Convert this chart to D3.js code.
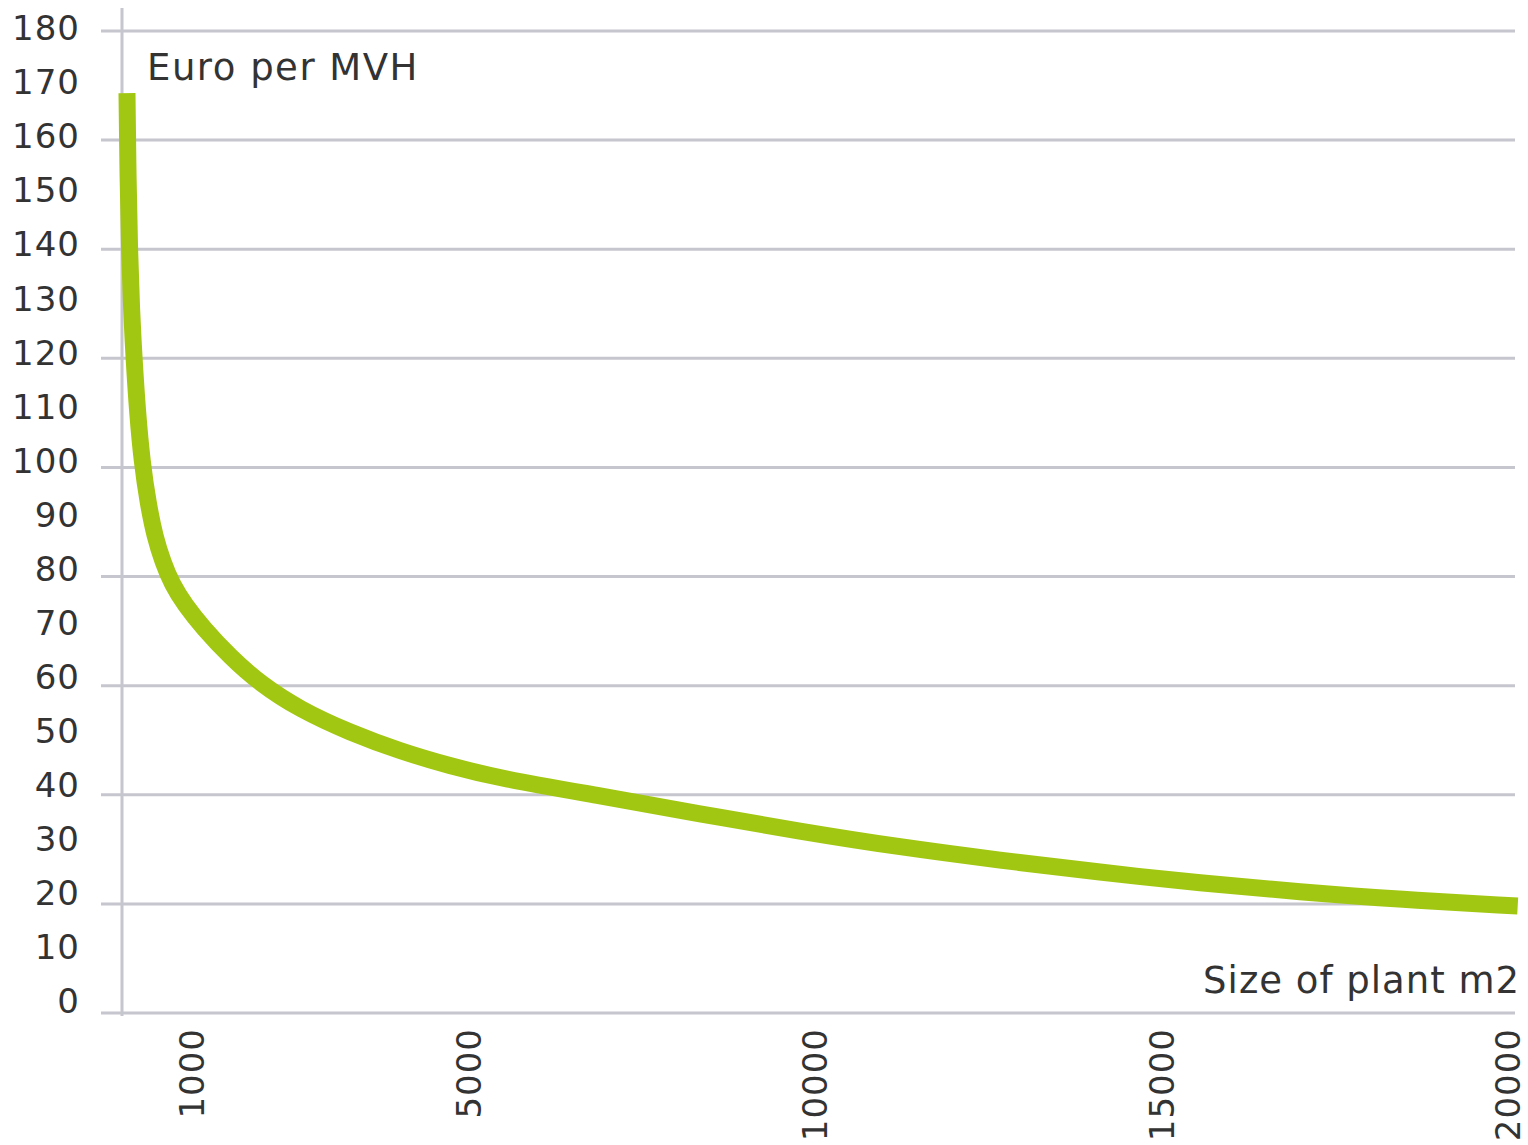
<!DOCTYPE html>
<html>
<head>
<meta charset="utf-8">
<script src="https://cdn.jsdelivr.net/npm/d3@7/dist/d3.min.js"></script>
<style>
  html, body { margin: 0; padding: 0; background: #fff; }
  svg { display: block; }
  text { font-family: "DejaVu Sans", sans-serif; fill: #333; }
</style>
</head>
<body>
<script>
// Cost per MVH against plant size
const plantSizes = [72, 87, 108, 137, 173, 224, 289, 375, 476, 592, 722, 909, 1170, 1560, 1990, 2570, 3290, 4010, 4730, 5450, 6900, 8340, 9780, 11230, 12670, 14110, 15560, 17000, 18440, 20140];
const euroPerMvh = [168.6, 152.7, 139.9, 128.9, 120.1, 110.0, 101.0, 93.5, 87.2, 82.6, 78.6, 74.8, 70.6, 65.3, 60.4, 55.6, 51.4, 48.0, 45.3, 43.0, 39.8, 36.5, 33.3, 30.4, 28.0, 25.8, 23.8, 22.2, 20.8, 19.6];

const yTickLabels = [0, 10, 20, 30, 40, 50, 60, 70, 80, 90, 100, 110, 120, 130, 140, 150, 160, 170, 180];
const gridValues = [0, 20, 40, 60, 80, 100, 120, 140, 160, 180];
const xTickLabels = [1000, 5000, 10000, 15000, 20000];

const yTitle = "Euro per MVH";
const xTitle = "Size of plant m2";

const W = 1528, H = 1145;
const axisX = 122, gridLeft = 101, gridRight = 1515;
const plotTop = 31, plotBottom = 1013;

const svg = d3.select("body").append("svg")
  .attr("width", W).attr("height", H);

const x = d3.scaleLinear().domain([0, 20000]).range([axisX, 1508]);
const y = d3.scaleLinear().domain([0, 180]).range([plotBottom, plotTop]);
// tick labels sit on their own slightly tighter ladder, above the lines
const yLabel = d3.scaleLinear().domain([0, 180]).range([1001, 28]);

const gridColor = "#c6c6ce";

// horizontal grid lines (the 0 line is the x axis)
svg.append("g").selectAll("line")
  .data(gridValues)
  .join("line")
  .attr("x1", gridLeft).attr("x2", gridRight)
  .attr("y1", d => y(d)).attr("y2", d => y(d))
  .attr("stroke", gridColor)
  .attr("stroke-width", 3);

// vertical axis line
svg.append("line")
  .attr("x1", axisX).attr("x2", axisX)
  .attr("y1", 8).attr("y2", plotBottom + 3)
  .attr("stroke", gridColor)
  .attr("stroke-width", 3);

// y tick labels
svg.append("g").selectAll("text")
  .data(yTickLabels)
  .join("text")
  .attr("x", 80)
  .attr("y", d => yLabel(d))
  .attr("dy", "0.36em")
  .attr("text-anchor", "end")
  .attr("font-size", 34)
  .attr("letter-spacing", 1)
  .text(d => d);

// x tick labels, rotated
svg.append("g").selectAll("text")
  .data(xTickLabels)
  .join("text")
  .attr("transform", d => `translate(${x(d)},1028) rotate(-90)`)
  .attr("dy", "0.36em")
  .attr("text-anchor", "end")
  .attr("font-size", 34)
  .attr("letter-spacing", 1)
  .text(d => d);

// axis titles
svg.append("text")
  .attr("x", 147).attr("y", 80)
  .attr("font-size", 37)
  .attr("letter-spacing", 1.5)
  .text(yTitle);

svg.append("text")
  .attr("x", 1520).attr("y", 993)
  .attr("text-anchor", "end")
  .attr("font-size", 37)
  .attr("letter-spacing", 1)
  .text(xTitle);

// cost curve, smoothed through the read-off points
const pts = plantSizes.map((s, i) => [s, euroPerMvh[i]]);
const line = d3.line()
  .x(d => x(d[0]))
  .y(d => y(d[1]))
  .curve(d3.curveBasis);

svg.append("path")
  .datum(pts)
  .attr("d", line)
  .attr("fill", "none")
  .attr("stroke", "#a2c712")
  .attr("stroke-width", 17)
  .attr("stroke-linecap", "butt")
  .attr("stroke-linejoin", "round");
</script>
</body>
</html>
